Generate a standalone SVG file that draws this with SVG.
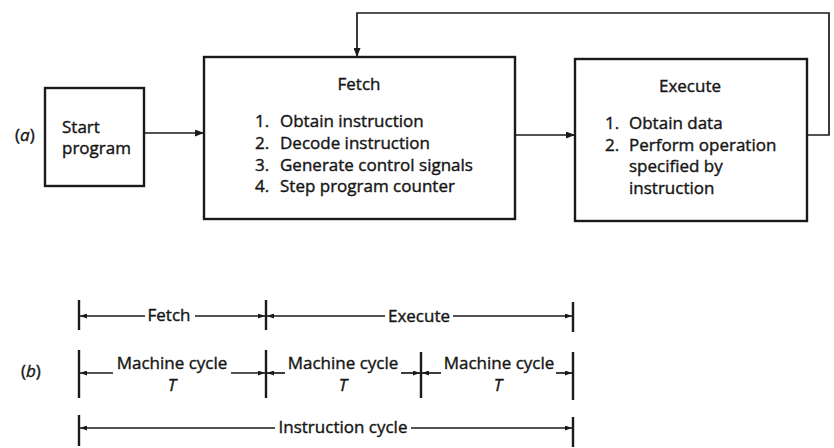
<svg xmlns="http://www.w3.org/2000/svg" width="834" height="448" viewBox="0 0 834 448">
<defs>
<style>
.box{fill:none;stroke:#1a1a1a;stroke-width:2.4}
.ln{fill:none;stroke:#1a1a1a;stroke-width:1.7}
.tk{fill:none;stroke:#1a1a1a;stroke-width:2.4}
text{font-family:"Open Sans","Liberation Sans",sans-serif;font-size:17px;fill:#161616;stroke:#161616;stroke-width:0.4}
.c{text-anchor:middle}
.i{font-style:italic}
</style>
<marker id="ah" markerUnits="userSpaceOnUse" markerWidth="9" markerHeight="7" refX="9" refY="3.5" orient="auto">
<path d="M0,0 L9,3.5 L0,7 z" fill="#1a1a1a"/>
</marker>
<marker id="sh" markerUnits="userSpaceOnUse" markerWidth="7" markerHeight="5" refX="7" refY="2.5" orient="auto">
<path d="M0,0 L7,2.5 L0,5 z" fill="#1a1a1a"/>
</marker>
</defs>
<rect width="834" height="448" fill="#ffffff"/>

<text x="15" y="141">(<tspan class="i">a</tspan>)</text>

<g id="start">
<rect class="box" x="45" y="88" width="99" height="98"/>
<text x="62" y="133">Start</text>
<text x="62" y="154">program</text>
</g>

<g id="fetch">
<rect class="box" x="204" y="57" width="311" height="162"/>
<text class="c" x="359" y="90">Fetch</text>
<text x="255" y="127">1.</text><text x="280" y="127">Obtain instruction</text>
<text x="255" y="149">2.</text><text x="280" y="149">Decode instruction</text>
<text x="255" y="171">3.</text><text x="280" y="171">Generate control signals</text>
<text x="255" y="192">4.</text><text x="280" y="192">Step program counter</text>
</g>

<g id="execute">
<rect class="box" x="575" y="59" width="232" height="162"/>
<text class="c" x="690" y="92">Execute</text>
<text x="605" y="129">1.</text><text x="629" y="129">Obtain data</text>
<text x="605" y="151">2.</text><text x="629" y="151">Perform operation</text>
<text x="629" y="172">specified by</text>
<text x="629" y="194">instruction</text>
</g>

<g id="connectors">
<line class="ln" x1="144" y1="133" x2="204" y2="133" marker-end="url(#ah)"/>
<line class="ln" x1="515" y1="135" x2="575" y2="135" marker-end="url(#ah)"/>
<polyline class="ln" points="807,135 829,135 829,13 357,13 357,57" marker-end="url(#ah)"/>
</g>

<text x="21" y="377">(<tspan class="i">b</tspan>)</text>

<g id="timing">
<line class="tk" x1="79" y1="300" x2="79" y2="330"/>
<line class="tk" x1="266" y1="300" x2="266" y2="330"/>
<line class="tk" x1="573" y1="302" x2="573" y2="332"/>
<line class="ln" x1="145" y1="316" x2="80" y2="316" marker-end="url(#sh)"/>
<line class="ln" x1="195" y1="316" x2="265" y2="316" marker-end="url(#sh)"/>
<line class="ln" x1="385" y1="316" x2="267" y2="316" marker-end="url(#sh)"/>
<line class="ln" x1="453" y1="316" x2="572" y2="316" marker-end="url(#sh)"/>
<text class="c" x="169" y="321">Fetch</text>
<text class="c" x="419" y="322">Execute</text>

<line class="tk" x1="79" y1="350" x2="79" y2="398"/>
<line class="tk" x1="266" y1="350" x2="266" y2="398"/>
<line class="tk" x1="421" y1="352" x2="421" y2="398"/>
<line class="tk" x1="573" y1="352" x2="573" y2="400"/>
<line class="ln" x1="113" y1="373" x2="80" y2="373" marker-end="url(#sh)"/>
<line class="ln" x1="231" y1="373" x2="265" y2="373" marker-end="url(#sh)"/>
<line class="ln" x1="285" y1="373" x2="267" y2="373" marker-end="url(#sh)"/>
<line class="ln" x1="401" y1="373" x2="420" y2="373" marker-end="url(#sh)"/>
<line class="ln" x1="441" y1="373" x2="422" y2="373" marker-end="url(#sh)"/>
<line class="ln" x1="556" y1="373" x2="572" y2="373" marker-end="url(#sh)"/>
<text class="c" x="172" y="369">Machine cycle</text>
<text class="c" x="343" y="369">Machine cycle</text>
<text class="c" x="499" y="369">Machine cycle</text>
<text class="c i" x="172" y="391">T</text>
<text class="c i" x="343" y="391">T</text>
<text class="c i" x="498" y="391">T</text>

<line class="tk" x1="79" y1="415" x2="79" y2="446"/>
<line class="tk" x1="573" y1="417" x2="573" y2="447"/>
<line class="ln" x1="275" y1="428" x2="80" y2="428" marker-end="url(#sh)"/>
<line class="ln" x1="411" y1="428" x2="572" y2="428" marker-end="url(#sh)"/>
<text class="c" x="343" y="433">Instruction cycle</text>
</g>
</svg>
